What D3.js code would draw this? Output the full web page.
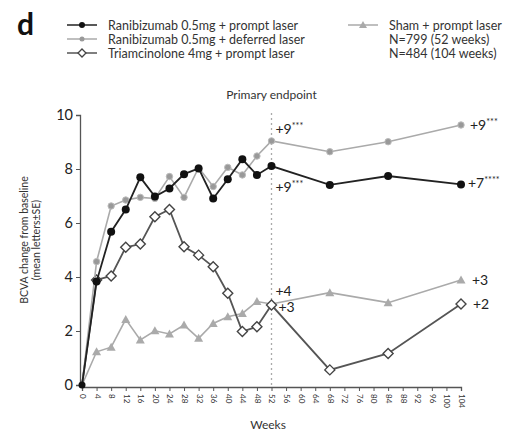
<!DOCTYPE html>
<html><head><meta charset="utf-8">
<script src="https://cdn.jsdelivr.net/npm/d3@7"></script>
<style>body{margin:0;background:#fff}svg{display:block}text{font-family:Lato,"DejaVu Sans",sans-serif}</style>
</head><body><svg id="c" width="526" height="434"></svg>
<script>
const weeks = [0,4,8,12,16,20,24,28,32,36,40,44,48,52,68,84,104];
const raniPrompt   = [0,3.83,5.68,6.5,7.69,6.98,7.28,7.81,8.02,6.91,7.62,8.36,7.78,8.11,7.41,7.74,7.43];
const raniDeferred = [0,4.57,6.63,6.85,6.95,6.91,7.72,6.95,8.05,7.35,8.06,7.78,8.48,9.04,8.64,9.01,9.63];
const triam        = [0,3.89,4.04,5.1,5.22,6.23,6.5,5.12,4.81,4.38,3.4,1.98,2.16,2.96,0.56,1.17,3.0];
const sham         = [0,1.23,1.4,2.43,1.67,2.01,1.89,2.22,1.73,2.28,2.53,2.65,3.09,3.0,3.42,3.05,3.89];
const xTicks = d3.range(0,105,4);
const yTicks = [0,2,4,6,8,10];
const seriesNames = ["Ranibizumab 0.5mg + prompt laser","Ranibizumab 0.5mg + deferred laser","Triamcinolone 4mg + prompt laser","Sham + prompt laser"];
const extraLegend = ["N=799 (52 weeks)","N=484 (104 weeks)"];
const annotations = [
  {w:52, v:9.04, t:"+9", s:"***", dx:4, dy:-7},
  {w:52, v:8.11, t:"+9", s:"***", dx:4, dy:26},
  {w:52, v:3.0, t:"+4", s:"", dx:4, dy:-8},
  {w:52, v:3.0, t:"+3", s:"", dx:7, dy:8},
  {w:104, v:9.63, t:"+9", s:"***", dx:9, dy:5},
  {w:104, v:7.43, t:"+7", s:"****", dx:7, dy:4},
  {w:104, v:3.89, t:"+3", s:"", dx:11, dy:5},
  {w:104, v:3.0, t:"+2", s:"", dx:12, dy:5}
];

const svg = d3.select("#c");
const x = d3.scaleLinear().domain([0,104]).range([82,461]);
const y = d3.scaleLinear().domain([0,10]).range([385,115]);

// axes
const yAxis = svg.append("g").attr("transform","translate(80,0)")
  .call(d3.axisLeft(y).tickValues(yTicks).tickSize(4).tickPadding(3));
yAxis.select(".domain").attr("stroke","#555").attr("stroke-width",1.3);
yAxis.selectAll(".tick line").attr("stroke","#555");
yAxis.selectAll(".tick text").attr("font-size",14.5).attr("fill","#222");

const xAxis = svg.append("g").attr("transform","translate(0,387)")
  .call(d3.axisBottom(x).tickValues(xTicks).tickSize(4).tickPadding(2));
xAxis.select(".domain").attr("stroke","#555").attr("stroke-width",1.3);
xAxis.selectAll(".tick line").attr("stroke","#555");
xAxis.selectAll(".tick text").attr("font-size",8).attr("fill","#333")
  .attr("transform","rotate(90)").attr("text-anchor","start").attr("dy","0.32em").attr("x",7).attr("y",0);

svg.append("text").attr("x",268).attr("y",429).attr("text-anchor","middle").attr("font-size",12).attr("fill","#333").text("Weeks");
svg.append("text").attr("transform","translate(28,240) rotate(-90)").attr("text-anchor","middle").attr("font-size",10.5).attr("fill","#333").text("BCVA change from baseline");
svg.append("text").attr("transform","translate(40,240) rotate(-90)").attr("text-anchor","middle").attr("font-size",10.5).attr("fill","#333").text("(mean letters±SE)");

// primary endpoint
svg.append("line").attr("x1",x(52)).attr("x2",x(52)).attr("y1",y(0)).attr("y2",y(10.1))
  .attr("stroke","#aaa").attr("stroke-width",1.3).attr("stroke-dasharray","2,3");
svg.append("text").attr("x",x(52)).attr("y",99).attr("text-anchor","middle").attr("font-size",12).attr("fill","#333").text("Primary endpoint");

const line = d3.line().x(d=>x(d[0])).y(d=>y(d[1]));
const zip = arr => weeks.map((w,i)=>[w,arr[i]]);

const series = [
  {data:sham, color:"#aaa", width:1.6, marker:"triangle"},
  {data:triam, color:"#555", width:1.8, marker:"diamond"},
  {data:raniDeferred, color:"#aaa", width:1.6, marker:"smalldot"},
  {data:raniPrompt, color:"#222", width:1.8, marker:"dot"}
];
function drawMarker(g, type, cx, cy){
  if(type==="dot") g.append("circle").attr("cx",cx).attr("cy",cy).attr("r",4).attr("fill","#111");
  else if(type==="smalldot") g.append("circle").attr("cx",cx).attr("cy",cy).attr("r",3.2).attr("fill","#999").attr("stroke","#bbb");
  else if(type==="diamond") g.append("path").attr("d",`M${cx},${cy-5}L${cx+5},${cy}L${cx},${cy+5}L${cx-5},${cy}Z`).attr("fill","#fff").attr("stroke","#444").attr("stroke-width",1.4);
  else if(type==="triangle") g.append("path").attr("d",`M${cx},${cy-4.5}L${cx+4.5},${cy+3.5}L${cx-4.5},${cy+3.5}Z`).attr("fill","#aaa");
}
series.forEach(s=>{
  const g = svg.append("g");
  g.append("path").datum(zip(s.data)).attr("d",line).attr("fill","none").attr("stroke",s.color).attr("stroke-width",s.width);
  zip(s.data).forEach(d=>{ if(d[0]>0) drawMarker(g,s.marker,x(d[0]),y(d[1])); });
});
svg.append("circle").attr("cx",x(0)).attr("cy",y(0)).attr("r",3.5).attr("fill","#111");

// annotations
annotations.forEach(a=>{
  const t = svg.append("text").attr("x",x(a.w)+a.dx).attr("y",y(a.v)+a.dy).attr("font-size",14).attr("fill","#222");
  t.append("tspan").text(a.t);
  if(a.s) t.append("tspan").attr("font-size",9).attr("dy",-5).text(a.s);
});

// legend
svg.append("text").attr("x",17).attr("y",35).attr("font-size",30).attr("font-weight","bold").attr("fill","#111").text("d");
const leg = [
  {name:seriesNames[0], marker:"dot", color:"#222", x:67, y:25},
  {name:seriesNames[1], marker:"smalldot", color:"#aaa", x:67, y:39},
  {name:seriesNames[2], marker:"diamond", color:"#555", x:67, y:53},
  {name:seriesNames[3], marker:"triangle", color:"#aaa", x:348, y:25}
];
leg.forEach(l=>{
  svg.append("line").attr("x1",l.x).attr("x2",l.x+30).attr("y1",l.y).attr("y2",l.y).attr("stroke",l.color).attr("stroke-width",1.5);
  const g = svg.append("g");
  if(l.marker==="dot") g.append("circle").attr("cx",l.x+15).attr("cy",l.y).attr("r",3).attr("fill","#111");
  else if(l.marker==="smalldot") g.append("circle").attr("cx",l.x+15).attr("cy",l.y).attr("r",2.5).attr("fill","#999");
  else if(l.marker==="diamond") g.append("path").attr("d",`M${l.x+15},${l.y-4}L${l.x+19},${l.y}L${l.x+15},${l.y+4}L${l.x+11},${l.y}Z`).attr("fill","#fff").attr("stroke","#444").attr("stroke-width",1.3);
  else g.append("path").attr("d",`M${l.x+15},${l.y-4}L${l.x+19},${l.y+3}L${l.x+11},${l.y+3}Z`).attr("fill","#aaa");
  svg.append("text").attr("x",l.x+41).attr("y",l.y+4.5).attr("font-size",12.5).attr("fill","#333").text(l.name);
});
extraLegend.forEach((t,i)=>{
  svg.append("text").attr("x",389).attr("y",43.5+14*i).attr("font-size",12.5).attr("fill","#333").text(t);
});
</script></body></html>
